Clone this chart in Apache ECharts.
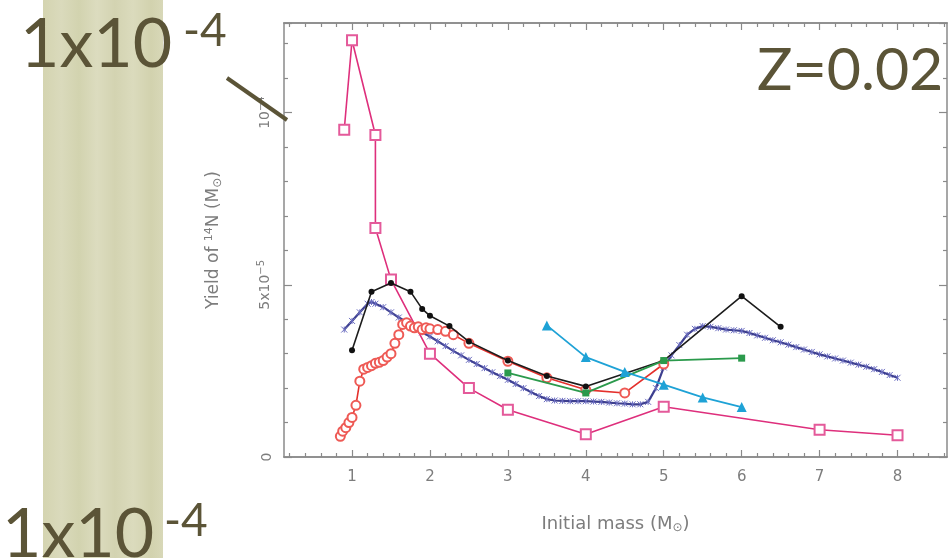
<!DOCTYPE html>
<html><head><meta charset="utf-8">
<script src="https://cdn.jsdelivr.net/npm/echarts@6/dist/echarts.min.js"></script>
<style>html,body{margin:0;padding:0;background:#fff}#c{width:949px;height:558px}</style>
</head><body><div id="c"></div>
<script>
// Yields are in units of 1e-5 Msun
const xMajorTicks = [1, 2, 3, 4, 5, 6, 7, 8];
const xMinorTicks = [0.2,0.4,0.6,0.8,1.2,1.4,1.6,1.8,2.2,2.4,2.6,2.8,3.2,3.4,3.6,3.8,4.2,4.4,4.6,4.8,5.2,5.4,5.6,5.8,6.2,6.4,6.6,6.8,7.2,7.4,7.6,7.8,8.2,8.4,8.6];
const yTickText = ['0', '5x10{s|−5}', '10{s|−4}'];

const pinkMass  = [0.9, 1.0, 1.3, 1.3, 1.5, 2.0, 2.5, 3.0, 4.0, 5.0, 7.0, 8.0];
const pinkYield = [9.5, 12.1, 9.35, 6.65, 5.15, 3.0, 2.0, 1.37, 0.66, 1.46, 0.79, 0.63];

const blackMass  = [1.0, 1.25, 1.5, 1.75, 1.9, 2.0, 2.25, 2.5, 3.0, 3.5, 4.0, 5.0, 6.0, 6.5];
const blackYield = [3.1, 4.8, 5.05, 4.8, 4.3, 4.1, 3.8, 3.35, 2.8, 2.35, 2.05, 2.8, 4.67, 3.78];

const navyMass  = [0.9,1.0,1.1,1.2,1.25,1.3,1.4,1.5,1.6,1.7,1.8,1.9,2.0,2.1,2.2,2.3,2.4,2.5,2.6,2.7,2.8,2.9,3.0,3.1,3.2,3.3,3.4,3.5,3.6,3.7,3.8,3.9,4.0,4.1,4.2,4.3,4.4,4.5,4.6,4.7,4.8,4.9,5.0,5.1,5.2,5.3,5.4,5.5,5.6,5.7,5.8,5.9,6.0,6.1,6.2,6.3,6.4,6.5,6.6,6.7,6.8,6.9,7.0,7.1,7.2,7.3,7.4,7.5,7.6,7.7,7.8,7.9,8.0];
const navyYield = [3.7,3.95,4.2,4.45,4.5,4.45,4.35,4.2,4.05,3.92,3.78,3.62,3.5,3.36,3.22,3.08,2.95,2.82,2.7,2.58,2.46,2.35,2.24,2.12,2.0,1.88,1.77,1.68,1.64,1.63,1.62,1.62,1.62,1.61,1.6,1.58,1.56,1.55,1.53,1.53,1.6,2.0,2.6,2.95,3.25,3.55,3.72,3.8,3.78,3.74,3.7,3.68,3.66,3.6,3.53,3.46,3.39,3.33,3.26,3.19,3.12,3.05,2.98,2.92,2.86,2.8,2.74,2.68,2.62,2.55,2.47,2.38,2.3];

const redMass  = [0.85,0.88,0.92,0.96,1.0,1.05,1.1,1.15,1.2,1.25,1.3,1.35,1.4,1.45,1.5,1.55,1.6,1.65,1.7,1.75,1.8,1.85,1.9,1.95,2.0,2.1,2.2,2.3,2.5,3.0,3.5,4.0,4.5,5.0];
const redYield = [0.6,0.75,0.85,1.0,1.15,1.5,2.2,2.55,2.6,2.65,2.72,2.75,2.8,2.9,3.0,3.3,3.55,3.85,3.9,3.8,3.75,3.78,3.7,3.75,3.72,3.7,3.65,3.55,3.3,2.78,2.3,1.95,1.86,2.7];

const cyanMass  = [3.5, 4.0, 4.5, 5.0, 5.5, 6.0];
const cyanYield = [3.82, 2.9, 2.47, 2.1, 1.73, 1.45];

const greenMass  = [3.0, 4.0, 5.0, 6.0];
const greenYield = [2.44, 1.86, 2.8, 2.87];

const XMIN = 0.127, XMAX = 8.635, YMAX = 12.6;
const axisGray = '#8a8a8a', textGray = '#7d7d7d';
const ink = '#5b5437';

function pairs(xs, ys) { return xs.map((x, i) => [x, ys[i]]); }

const chart = echarts.init(document.getElementById('c'));
const lineAxis = { show: true, onZero: false, lineStyle: { color: axisGray, width: 1.5 } };
const tickStyle = { color: axisGray, width: 1.2 };
function xAx(pos, ticks, len, labels, extra) {
  return Object.assign({
    type: 'value', min: XMIN, max: XMAX, position: pos,
    axisLine: lineAxis,
    axisTick: { show: true, inside: true, length: len, customValues: ticks, lineStyle: tickStyle },
    axisLabel: labels ? { show: true, customValues: xMajorTicks, margin: 13, color: textGray, fontSize: 15, fontFamily: 'DejaVu Sans' } : { show: false },
    splitLine: { show: false }
  }, extra || {});
}
function yAx(pos, labels, extra) {
  return Object.assign({
    type: 'value', min: 0, max: YMAX, interval: 5, position: pos,
    axisLine: lineAxis,
    axisTick: { show: true, inside: true, length: 8, lineStyle: tickStyle },
    minorTick: { show: true, splitNumber: 5, length: 4, lineStyle: tickStyle },
    axisLabel: labels ? {
      show: true, rotate: 90, margin: 10, color: textGray, fontSize: 14, fontFamily: 'DejaVu Sans',
      formatter: v => yTickText[Math.round(v / 5)] || '',
      rich: { s: { fontSize: 10, color: textGray, fontFamily: 'DejaVu Sans', verticalAlign: 'top', padding: [0, 0, 8, 0] } }
    } : { show: false },
    splitLine: { show: false }
  }, extra || {});
}

const option = {
  animation: false,
  backgroundColor: '#fff',
  grid: { left: 284, right: 2, top: 23, bottom: 101, containLabel: false },
  xAxis: [
    xAx('bottom', xMajorTicks, 7, true, {
      name: 'Initial mass (M{u|⊙})', nameLocation: 'middle', nameGap: 57,
      nameTextStyle: { color: textGray, fontSize: 18, fontFamily: 'DejaVu Sans',
        rich: { u: { fontSize: 12, color: textGray, fontFamily: 'DejaVu Sans', verticalAlign: 'bottom', padding: [8, 0, 0, 0] } } }
    }),
    xAx('bottom', xMinorTicks, 4, false),
    xAx('top', xMajorTicks, 7, false),
    xAx('top', xMinorTicks, 4, false)
  ],
  yAxis: [
    yAx('left', true, {
      name: 'Yield of {s|14}N (M{u|⊙})', nameLocation: 'middle', nameGap: 60, nameRotate: 90,
      nameTextStyle: { color: textGray, fontSize: 17, fontFamily: 'DejaVu Sans',
        rich: {
          s: { fontSize: 11, color: textGray, fontFamily: 'DejaVu Sans', verticalAlign: 'top', padding: [0, 0, 8, 0] },
          u: { fontSize: 12, color: textGray, fontFamily: 'DejaVu Sans', padding: [8, 0, 0, 0] }
        } }
    }),
    yAx('right', false)
  ],
  series: [
    { type: 'line', name: 'navy', data: pairs(navyMass, navyYield), symbol: 'path://M0,0L10,10M10,0L0,10M5,0L5,10', symbolSize: 6,
      lineStyle: { color: '#3d3f8f', width: 2.2 }, itemStyle: { color: '#6a6cc0', borderColor: '#6a6cc0', borderWidth: 1 }, z: 2 },
    { type: 'line', name: 'pink', data: pairs(pinkMass, pinkYield), symbol: 'emptyRect', symbolSize: 10,
      lineStyle: { color: '#de2f7c', width: 1.6 }, itemStyle: { color: '#e45a9a', borderColor: '#e45a9a', borderWidth: 1.2 }, z: 3 },
    { type: 'line', name: 'red', data: pairs(redMass, redYield), symbol: 'emptyCircle', symbolSize: 9,
      lineStyle: { color: '#e4302c', width: 1.6 }, itemStyle: { color: '#ee5a55', borderColor: '#ee5a55', borderWidth: 1 }, z: 4 },
    { type: 'line', name: 'black', data: pairs(blackMass, blackYield), symbol: 'circle', symbolSize: 6,
      lineStyle: { color: '#1c1c1c', width: 1.6 }, itemStyle: { color: '#111' }, z: 5 },
    { type: 'line', name: 'green', data: pairs(greenMass, greenYield), symbol: 'rect', symbolSize: 7,
      lineStyle: { color: '#2b9a4c', width: 1.8 }, itemStyle: { color: '#2b9a4c' }, z: 6 },
    { type: 'line', name: 'cyan', data: pairs(cyanMass, cyanYield), symbol: 'triangle', symbolSize: 10,
      lineStyle: { color: '#1ea2d6', width: 1.8 }, itemStyle: { color: '#1ea2d6' }, z: 7 }
  ],
  graphic: [
    { type: 'rect', z: -10, shape: { x: 43, y: 0, width: 120, height: 558 },
      style: { fill: { type: 'linear', x: 0, y: 0, x2: 1, y2: 0, colorStops: [
        { offset: 0, color: '#d4d4b0' }, { offset: 0.15, color: '#dadabc' }, { offset: 0.3, color: '#d2d3af' },
        { offset: 0.45, color: '#dcdcbf' }, { offset: 0.6, color: '#d3d3b1' }, { offset: 0.75, color: '#dbdbbd' },
        { offset: 0.9, color: '#d2d2ae' }, { offset: 1, color: '#d8d8b8' } ] } } },
    { type: 'text', z: 100, style: { x: 20, y: 45, text: '1x10', fill: ink, fontSize: 68, fontFamily: 'Lato', textVerticalAlign: 'middle' } },
    { type: 'text', z: 100, style: { x: 183, y: 31, text: '-4', fill: ink, fontSize: 46, fontFamily: 'Lato', textVerticalAlign: 'middle' } },
    { type: 'text', z: 100, style: { x: 2, y: 535, text: '1x10', fill: ink, fontSize: 68, fontFamily: 'Lato', textVerticalAlign: 'middle' } },
    { type: 'text', z: 100, style: { x: 164, y: 521, text: '-4', fill: ink, fontSize: 46, fontFamily: 'Lato', textVerticalAlign: 'middle' } },
    { type: 'line', z: 100, shape: { x1: 227, y1: 78, x2: 287, y2: 120 }, style: { stroke: ink, lineWidth: 4 } },
    { type: 'text', z: 100, style: { x: 757, y: 71, text: 'Z=0.02', fill: ink, fontSize: 59, fontFamily: 'Lato', textVerticalAlign: 'middle' } }
  ]
};
chart.setOption(option);
</script></body></html>
